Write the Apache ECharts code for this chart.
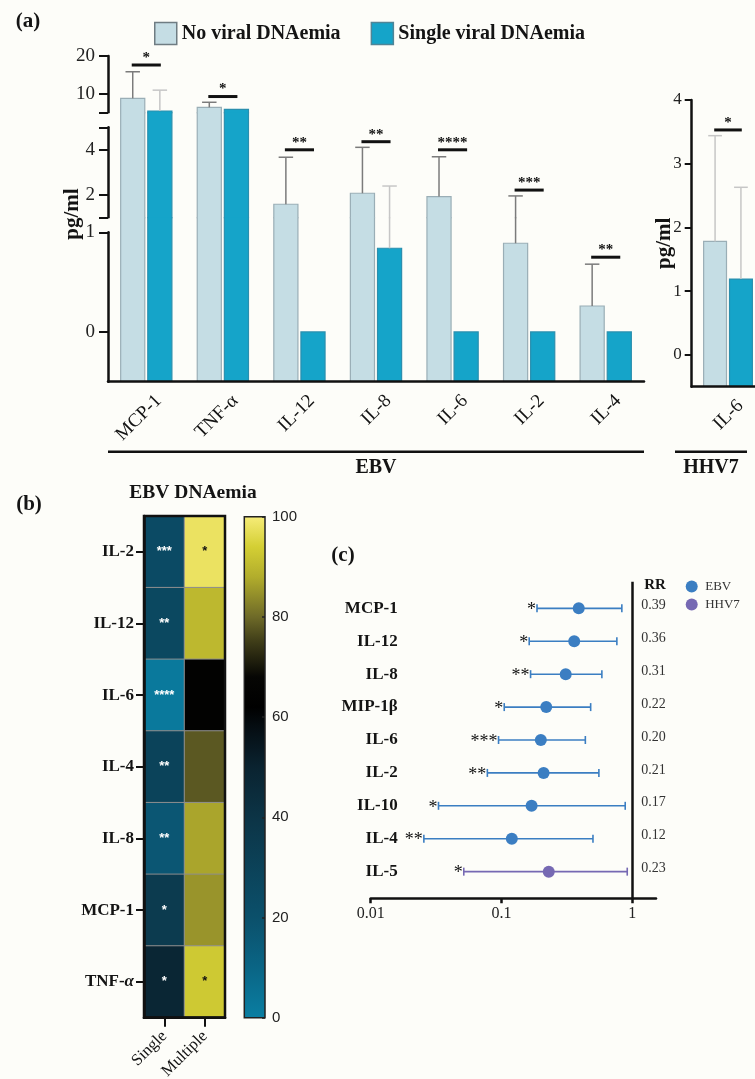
<!DOCTYPE html>
<html>
<head>
<meta charset="utf-8">
<script src="https://cdn.jsdelivr.net/npm/echarts@6/dist/echarts.min.js"></script>
<style>
html, body { margin: 0; padding: 0; background: #fdfdf9; }
#chart { width: 755px; height: 1079px; }
</style>
</head>
<body>
<div id="chart"></div>
<script>
// ---------- (a) cytokine levels (pg/ml), EBV ----------
const cytokines     = ['MCP-1', 'TNF-α', 'IL-12', 'IL-8', 'IL-6', 'IL-2', 'IL-4'];
const noViralMean   = [8.73, 6.33, 1.58, 2.07, 1.92, 0.89, 0.26];
const noViralSD     = [7.07, 1.34, 2.09, 2.04, 1.77, 1.06, 0.42];
const singleMean    = [5.35, 5.80, 0, 0.84, 0, 0, 0];
const singleSD      = [5.55, 0, 0, 1.55, 0, 0, 0];
const sigHeight     = [17.6, 9.2, 4.0, 4.36, 4.0, 2.21, 0.75];
const sigStars      = ['*', '*', '**', '**', '****', '***', '**'];

// ---------- (a) HHV7 ----------
const hhv7Cytokines   = ['IL-6'];
const hhv7NoViralMean = [1.78];
const hhv7NoViralSD   = [1.66];
const hhv7SingleMean  = [1.19];
const hhv7SingleSD    = [1.44];
const hhv7SigHeight   = [3.53];
const hhv7SigStars    = ['*'];

// broken y axis: value range, tick values and labelled values of each segment (top to bottom)
const segRanges = [[5, 20], [1, 5], [-0.5, 1]];
const segTicks  = [[5, 10, 20], [1, 2, 4, 5], [0, 1]];
const segLabels = [[10, 20], [2, 4], [0, 1]];
const hhv7Range = [-0.5, 4];
const hhv7Ticks = [0, 1, 2, 3, 4];

// ---------- (b) heatmap, EBV DNAemia (%) ----------
const heatRows          = ['IL-2', 'IL-12', 'IL-6', 'IL-4', 'IL-8', 'MCP-1', 'TNF-α'];
const heatCols          = ['Single', 'Multiple'];
const heatSingle        = [24, 26, 2, 29, 17, 35, 48];
const heatMultiple      = [98, 90, 64, 78, 87, 85, 93];
const heatSingleStars   = ['***', '**', '****', '**', '**', '*', '*'];
const heatMultipleStars = ['*', '', '', '', '', '', '*'];
const colorbarRange     = [0, 100];
const colorbarStep      = 20;

// ---------- (c) relative risk ----------
const forestLabels = ['MCP-1', 'IL-12', 'IL-8', 'MIP-1β', 'IL-6', 'IL-2', 'IL-10', 'IL-4', 'IL-5'];
const forestVirus  = ['EBV', 'EBV', 'EBV', 'EBV', 'EBV', 'EBV', 'EBV', 'EBV', 'HHV7'];
const forestRR     = [0.39, 0.36, 0.31, 0.22, 0.20, 0.21, 0.17, 0.12, 0.23];
const forestLow    = [0.187, 0.163, 0.167, 0.105, 0.095, 0.078, 0.033, 0.0255, 0.0515];
const forestHigh   = [0.833, 0.763, 0.586, 0.481, 0.438, 0.556, 0.884, 0.501, 0.916];
const forestStars  = ['*', '*', '**', '*', '***', '**', '*', '**', '*'];
const forestTicks  = [0.01, 0.1, 1];

// ---------- styling ----------
const SERIF = '"Liberation Serif", "DejaVu Serif", serif';
const SANS = '"Liberation Sans", Arial, sans-serif';
const INK = '#141414';
const NV_FILL = '#c5dde4', NV_EDGE = '#9aaeb6', NV_ERR = '#7b7b7b';
const SV_FILL = '#15a4c9', SV_EDGE = '#2a8fae', SV_ERR = '#c6c6c6';
const VIRUS_COLOR = { EBV: '#3b7ec2', HHV7: '#7669b3' };
const SEG_GAP = 15; // vertical gap between the stacked axis segments

// heatmap colour scale: [value, colour]
const colorStops = [
  [0, '#0a7ea2'], [10, '#0a6585'], [20, '#0b506b'], [40, '#0c3446'], [50, '#0a2330'],
  [58, '#050d12'], [62, '#000000'], [68, '#060604'], [75, '#3e3c18'], [80, '#6e6a28'],
  [88, '#b2ad2c'], [94, '#d4cf34'], [100, '#f6ec78']
];
function hexToRgb(h) { return [1, 3, 5].map(k => parseInt(h.substr(k, 2), 16)); }
function colorAt(v) {
  for (let k = 1; k < colorStops.length; k++) {
    const [v0, c0] = colorStops[k - 1], [v1, c1] = colorStops[k];
    if (v <= v1) {
      const t = (v - v0) / (v1 - v0), a = hexToRgb(c0), b = hexToRgb(c1);
      return 'rgb(' + a.map((x, j) => Math.round(x + (b[j] - x) * t)).join(',') + ')';
    }
  }
  return colorStops[colorStops.length - 1][1];
}
const colorRamp = [];
for (let v = colorbarRange[0]; v <= colorbarRange[1]; v++) colorRamp.push(colorAt(v));

// ---------- renderers ----------
// bar with one-sided error bar, drawn inside one segment of a broken axis;
// parts above the segment's top continue through the gap to the next segment
function makeBarRenderer(mean, sd, side, fill, edge, errColor, range, gapAbove, isLowest) {
  const [lo, hi] = range;
  return function (params, api) {
    const i = api.value(0);
    const cs = params.coordSys;
    const band = api.size([1, 0])[0];
    const bw = band * 0.315;
    const cx = api.coord([i, 0])[0] + side * (bw / 2 + 1.5);
    const bottom = cs.y + cs.height;
    const base = isLowest ? bottom : bottom + 1; // slight overlap avoids a seam between segments
    const ceiling = gapAbove ? cs.y - SEG_GAP : cs.y;
    const yOf = v => (v > hi ? ceiling : v < lo ? bottom : api.coord([i, v])[1]);
    const v = mean[i], e = sd[i];
    const kids = [];
    if (v >= lo) {
      const top = yOf(v), x0 = cx - bw / 2, x1 = cx + bw / 2;
      kids.push({ type: 'rect', shape: { x: x0, y: top, width: bw, height: base - top }, style: { fill: fill } });
      if (v <= hi) {
        kids.push({ type: 'polyline', shape: { points: [[x0, base], [x0, top], [x1, top], [x1, base]] },
          style: { stroke: edge, lineWidth: 1.2, fill: null } });
      } else {
        kids.push({ type: 'line', shape: { x1: x0, y1: base, x2: x0, y2: top }, style: { stroke: edge, lineWidth: 1.2 } });
        kids.push({ type: 'line', shape: { x1: x1, y1: base, x2: x1, y2: top }, style: { stroke: edge, lineWidth: 1.2 } });
      }
    }
    const up = v + e;
    if (e > 0 && up >= lo && v <= hi) {
      const yLo = v < lo ? base : yOf(v), yHi = yOf(up);
      kids.push({ type: 'line', shape: { x1: cx, y1: yLo, x2: cx, y2: yHi }, style: { stroke: errColor, lineWidth: 1.5 } });
      if (up <= hi) {
        const cw = bw * 0.6;
        kids.push({ type: 'line', shape: { x1: cx - cw / 2, y1: yHi, x2: cx + cw / 2, y2: yHi }, style: { stroke: errColor, lineWidth: 1.5 } });
      }
    }
    return { type: 'group', children: kids };
  };
}

// significance bar with stars
function makeSigRenderer(heights, stars, range) {
  const [lo, hi] = range;
  return function (params, api) {
    const i = api.value(0), h = heights[i];
    if (h < lo || h > hi) return { type: 'group', children: [] };
    const band = api.size([1, 0])[0];
    const p = api.coord([i, h]);
    const w = band * 0.38;
    return { type: 'group', children: [
      { type: 'line', shape: { x1: p[0] - w / 2, y1: p[1], x2: p[0] + w / 2, y2: p[1] }, style: { stroke: '#111', lineWidth: 3 } },
      { type: 'text', x: p[0], y: p[1] - 7, style: { text: stars[i], font: 'bold 15px ' + SERIF, fill: '#111', align: 'center', verticalAlign: 'middle' } }
    ] };
  };
}

// forest plot row: CI, caps, stars, row label, RR value
function forestRender(params, api) {
  const i = api.value(1);
  const cs = params.coordSys;
  const col = VIRUS_COLOR[forestVirus[i]];
  const y = api.coord([1, i])[1];
  const xl = api.coord([forestLow[i], i])[0];
  const xh = api.coord([forestHigh[i], i])[0];
  const x1 = api.coord([1, i])[0];
  return { type: 'group', children: [
    { type: 'line', shape: { x1: xl, y1: y, x2: xh, y2: y }, style: { stroke: col, lineWidth: 1.6 } },
    { type: 'line', shape: { x1: xl, y1: y - 4, x2: xl, y2: y + 4 }, style: { stroke: col, lineWidth: 1.6 } },
    { type: 'line', shape: { x1: xh, y1: y - 4, x2: xh, y2: y + 4 }, style: { stroke: col, lineWidth: 1.6 } },
    { type: 'text', x: xl - 1, y: y + 2, style: { text: forestStars[i], font: '18px ' + SERIF, fill: '#111', align: 'right', verticalAlign: 'middle' } },
    { type: 'text', x: cs.x + 27, y: y, style: { text: forestLabels[i], font: 'bold 17px ' + SERIF, fill: INK, align: 'right', verticalAlign: 'middle' } },
    { type: 'text', x: x1 + 9, y: y - 3, style: { text: forestRR[i].toFixed(2), font: '14px ' + SERIF, fill: '#333', align: 'left', verticalAlign: 'middle' } }
  ] };
}

function colorbarRender(params, api) {
  const cs = params.coordSys;
  const yTop = api.coord([0, colorbarRange[1]])[1];
  const yBot = api.coord([0, colorbarRange[0]])[1];
  const span = colorbarRange[1] - colorbarRange[0];
  const stops = colorStops.map(([v, c]) => ({ offset: (colorbarRange[1] - v) / span, color: c })).reverse();
  return { type: 'rect', shape: { x: cs.x, y: yTop, width: cs.width, height: yBot - yTop },
    style: { fill: new echarts.graphic.LinearGradient(0, 0, 0, 1, stops) } };
}

// ---------- layout ----------
const MAIN_LEFT = 108, MAIN_WIDTH = 536;
const segTop = [56, 127.3, 232.3];
const segHeight = [56.3, 90, 149.4];

const grids = [], xAxes = [], yAxes = [], series = [];
const axisLineStyle = { color: '#111', width: 2.5 };
const catLabel = { interval: 0, rotate: 45, verticalAlign: 'top', padding: [8, 0, 0, 0], margin: 4,
  fontFamily: SERIF, fontSize: 19, color: INK };

segRanges.forEach((range, k) => {
  grids.push({ left: MAIN_LEFT, top: segTop[k], width: MAIN_WIDTH, height: segHeight[k], outerBoundsMode: 'none' });
  const isBottom = k === segRanges.length - 1;
  xAxes.push({
    gridIndex: k, type: 'category', data: cytokines, show: isBottom, z: 5,
    axisLine: { show: true, lineStyle: axisLineStyle, onZero: false },
    axisTick: { show: false },
    axisLabel: catLabel,
    splitLine: { show: false }
  });
  yAxes.push({
    gridIndex: k, type: 'value', min: range[0], max: range[1], z: 5,
    axisLine: { show: true, lineStyle: axisLineStyle },
    axisTick: { show: true, length: 9, lineStyle: { color: '#111', width: 2 }, customValues: segTicks[k] },
    axisLabel: { show: true, customValues: segLabels[k], margin: 13, fontFamily: SERIF, fontSize: 19, color: '#222' },
    splitLine: { show: false }
  });
  const idx = { xAxisIndex: k, yAxisIndex: k, silent: true, clip: false };
  series.push(Object.assign({ type: 'custom', name: 'No viral DNAemia', z: 2, itemStyle: { color: NV_FILL },
    data: cytokines.map((c, i) => [i, noViralMean[i]]), encode: { x: 0, y: 1 },
    renderItem: makeBarRenderer(noViralMean, noViralSD, -1, NV_FILL, NV_EDGE, NV_ERR, range, k > 0, isBottom) }, idx));
  series.push(Object.assign({ type: 'custom', name: 'Single viral DNAemia', z: 2, itemStyle: { color: SV_FILL },
    data: cytokines.map((c, i) => [i, singleMean[i]]), encode: { x: 0, y: 1 },
    renderItem: makeBarRenderer(singleMean, singleSD, 1, SV_FILL, SV_EDGE, SV_ERR, range, k > 0, isBottom) }, idx));
  series.push(Object.assign({ type: 'custom', name: 'sig', z: 3,
    data: cytokines.map((c, i) => [i, sigHeight[i]]), encode: { x: 0, y: 1 },
    renderItem: makeSigRenderer(sigHeight, sigStars, range) }, idx));
});

// HHV7 panel (grid 3)
grids.push({ left: 691.7, top: 100, width: 72.6, height: 286.7, outerBoundsMode: 'none' });
xAxes.push({
  gridIndex: 3, type: 'category', data: hhv7Cytokines, z: 5,
  axisLine: { show: true, lineStyle: axisLineStyle, onZero: false },
  axisTick: { show: false },
  axisLabel: catLabel,
  splitLine: { show: false }
});
yAxes.push({
  gridIndex: 3, type: 'value', min: hhv7Range[0], max: hhv7Range[1], z: 5,
  name: 'pg/ml', nameLocation: 'middle', nameRotate: 90, nameGap: 17, nameMoveOverlap: false,
  nameTextStyle: { fontFamily: SERIF, fontWeight: 'bold', fontSize: 21, color: INK },
  axisLine: { show: true, lineStyle: axisLineStyle },
  axisTick: { show: true, length: 7, lineStyle: { color: '#111', width: 2 }, customValues: hhv7Ticks },
  axisLabel: { show: true, customValues: hhv7Ticks, margin: 10, fontFamily: SERIF, fontSize: 17, color: '#222' },
  splitLine: { show: false }
});
{
  const idx = { xAxisIndex: 3, yAxisIndex: 3, silent: true, clip: false };
  series.push(Object.assign({ type: 'custom', name: 'No viral DNAemia', z: 2, itemStyle: { color: NV_FILL },
    data: hhv7Cytokines.map((c, i) => [i, hhv7NoViralMean[i]]), encode: { x: 0, y: 1 },
    renderItem: makeBarRenderer(hhv7NoViralMean, hhv7NoViralSD, -1, NV_FILL, NV_EDGE, SV_ERR, hhv7Range, false, true) }, idx));
  series.push(Object.assign({ type: 'custom', name: 'Single viral DNAemia', z: 2, itemStyle: { color: SV_FILL },
    data: hhv7Cytokines.map((c, i) => [i, hhv7SingleMean[i]]), encode: { x: 0, y: 1 },
    renderItem: makeBarRenderer(hhv7SingleMean, hhv7SingleSD, 1, SV_FILL, SV_EDGE, SV_ERR, hhv7Range, false, true) }, idx));
  series.push(Object.assign({ type: 'custom', name: 'sig', z: 3,
    data: hhv7Cytokines.map((c, i) => [i, hhv7SigHeight[i]]), encode: { x: 0, y: 1 },
    renderItem: makeSigRenderer(hhv7SigHeight, hhv7SigStars, hhv7Range) }, idx));
}

// heatmap (grid 4)
grids.push({ left: 144, top: 516, width: 81, height: 501.7, show: true, borderColor: '#111', borderWidth: 2.5,
  backgroundColor: 'transparent', z: 5, outerBoundsMode: 'none' });
xAxes.push({
  gridIndex: 4, type: 'category', data: heatCols, z: 6,
  axisLine: { show: true, lineStyle: axisLineStyle },
  axisTick: { show: true, alignWithLabel: true, length: 9, lineStyle: { color: '#111', width: 2 } },
  axisLabel: { interval: 0, rotate: 45, margin: 16, fontFamily: SERIF, fontSize: 16.5, color: INK },
  splitLine: { show: false }, splitArea: { show: false }
});
yAxes.push({
  gridIndex: 4, type: 'category', data: heatRows, inverse: true, z: 6,
  axisLine: { show: true, lineStyle: axisLineStyle },
  axisTick: { show: true, alignWithLabel: true, length: 8, lineStyle: { color: '#111', width: 2 } },
  axisLabel: {
    interval: 0, margin: 10, fontFamily: SERIF, fontWeight: 'bold', fontSize: 17, color: INK,
    formatter: v => v.replace('α', '{it|α}'),
    rich: { it: { fontFamily: SERIF, fontWeight: 'bold', fontStyle: 'italic', fontSize: 17, color: INK } }
  },
  splitLine: { show: false }, splitArea: { show: false }
});
const heatData = [];
heatRows.forEach((r, i) => {
  heatData.push({ value: [0, i, heatSingle[i]], label: { formatter: heatSingleStars[i], color: '#ffffff' } });
  heatData.push({ value: [1, i, heatMultiple[i]], label: { formatter: heatMultipleStars[i], color: '#111111' } });
});
const heatSeriesIndex = series.length;
series.push({
  type: 'heatmap', xAxisIndex: 4, yAxisIndex: 4, data: heatData, silent: true,
  itemStyle: { borderColor: '#8e8e8e', borderWidth: 1 },
  label: { show: true, fontFamily: SANS, fontWeight: 'bold', fontSize: 13 },
  emphasis: { disabled: true }
});

// colour bar (grid 5)
grids.push({ left: 244.3, top: 516.7, width: 20.7, height: 501, show: true, borderColor: '#222', borderWidth: 1.5,
  backgroundColor: 'transparent', z: 5, outerBoundsMode: 'none' });
xAxes.push({ gridIndex: 5, type: 'category', data: [''], show: false });
yAxes.push({
  gridIndex: 5, type: 'value', position: 'right', min: colorbarRange[0], max: colorbarRange[1], interval: colorbarStep, z: 6,
  axisLine: { show: false },
  axisTick: { show: true, inside: true, length: 3, lineStyle: { color: '#222', width: 1.5 } },
  axisLabel: { show: true, margin: 7, fontFamily: SANS, fontSize: 15, color: '#222' },
  splitLine: { show: false }
});
series.push({ type: 'custom', xAxisIndex: 5, yAxisIndex: 5, silent: true, data: [[0, colorbarRange[0]]],
  encode: { x: 0, y: 1 }, renderItem: colorbarRender });

// forest plot (grid 6)
grids.push({ left: 370.7, top: 581.7, width: 285.3, height: 316.6, outerBoundsMode: 'none' });
xAxes.push({
  gridIndex: 6, type: 'log', logBase: 10, min: 0.01, max: 1.52, z: 5,
  axisLine: { show: true, lineStyle: axisLineStyle, onZero: false },
  axisTick: { show: true, length: 5, lineStyle: { color: '#111', width: 2.5 }, customValues: forestTicks },
  axisLabel: { show: true, customValues: forestTicks, margin: 7, fontFamily: SERIF, fontSize: 16, color: '#222',
    formatter: v => String(+(+v).toPrecision(3)) },
  splitLine: { show: false }, minorTick: { show: false }
});
yAxes.push({ gridIndex: 6, type: 'value', inverse: true, min: -0.81, max: 8.81, show: false, splitLine: { show: false } });
series.push({ type: 'custom', xAxisIndex: 6, yAxisIndex: 6, silent: true, z: 2,
  data: forestRR.map((v, i) => [v, i]), encode: { x: 0, y: 1 }, renderItem: forestRender });
['EBV', 'HHV7'].forEach((virus, n) => {
  const s = {
    type: 'scatter', name: virus, xAxisIndex: 6, yAxisIndex: 6, silent: true, z: 3,
    symbol: 'circle', symbolSize: 12, itemStyle: { color: VIRUS_COLOR[virus], opacity: 1 },
    data: forestRR.map((v, i) => [v, i]).filter((d, i) => forestVirus[i] === virus)
  };
  if (n === 0) {
    s.markLine = { silent: true, symbol: ['none', 'none'], label: { show: false },
      lineStyle: { color: '#111', width: 2.5, type: 'solid' }, data: [{ xAxis: 1 }] };
  }
  series.push(s);
});

// ---------- text and brackets ----------
function txt(x, y, text, font, extra) {
  return Object.assign({ type: 'text', x: x, y: y, silent: true,
    style: { text: text, font: font, fill: INK, align: 'center', verticalAlign: 'middle' } }, extra || {});
}
const graphic = [
  txt(28, 22, '(a)', 'bold 21px ' + SERIF),
  txt(29, 505, '(b)', 'bold 21px ' + SERIF),
  txt(343, 556, '(c)', 'bold 21px ' + SERIF),
  txt(73, 214, 'pg/ml', 'bold 21px ' + SERIF, { rotation: Math.PI / 2 }),
  { type: 'line', silent: true, shape: { x1: 108, y1: 451.7, x2: 644, y2: 451.7 }, style: { stroke: '#111', lineWidth: 2.5 } },
  { type: 'line', silent: true, shape: { x1: 675, y1: 451.7, x2: 747, y2: 451.7 }, style: { stroke: '#111', lineWidth: 2.5 } },
  txt(376, 468, 'EBV', 'bold 20px ' + SERIF),
  txt(711, 468, 'HHV7', 'bold 20px ' + SERIF),
  txt(193, 493, 'EBV DNAemia', 'bold 19.5px ' + SERIF),
  txt(655, 585, 'RR', 'bold 15px ' + SERIF)
];

const option = {
  backgroundColor: '#fdfdf9',
  animation: false,
  grid: grids,
  xAxis: xAxes,
  yAxis: yAxes,
  series: series,
  visualMap: {
    type: 'continuous', show: false, seriesIndex: heatSeriesIndex, dimension: 2,
    min: colorbarRange[0], max: colorbarRange[1], inRange: { color: colorRamp }
  },
  legend: [
    {
      left: 154, top: 21.7, padding: 0, itemWidth: 22, itemHeight: 22, itemGap: 30, icon: 'rect', selectedMode: false,
      textStyle: { fontFamily: SERIF, fontWeight: 'bold', fontSize: 20, color: INK },
      data: [
        { name: 'No viral DNAemia', itemStyle: { color: NV_FILL, borderColor: '#6f7c82', borderWidth: 1.5 } },
        { name: 'Single viral DNAemia', itemStyle: { color: SV_FILL, borderColor: '#4f8597', borderWidth: 1.5 } }
      ]
    },
    {
      left: 685.7, top: 580, padding: 0, orient: 'vertical', itemWidth: 17, itemHeight: 12, itemGap: 5, icon: 'circle', selectedMode: false,
      textStyle: { fontFamily: SERIF, fontSize: 13, color: '#333' },
      data: [
        { name: 'EBV', itemStyle: { color: VIRUS_COLOR.EBV } },
        { name: 'HHV7', itemStyle: { color: VIRUS_COLOR.HHV7 } }
      ]
    }
  ],
  graphic: graphic
};

const chart = echarts.init(document.getElementById('chart'), null, { renderer: 'canvas' });
chart.setOption(option);
</script>
</body>
</html>
